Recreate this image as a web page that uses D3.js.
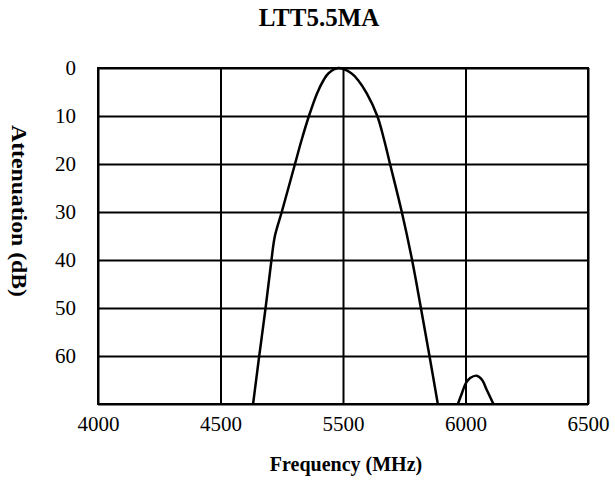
<!DOCTYPE html>
<html>
<head>
<meta charset="utf-8">
<script src="https://cdn.jsdelivr.net/npm/d3@7"></script>
<style>
  html, body { margin: 0; padding: 0; background: #fff; }
  svg { display: block; font-family: "Liberation Serif", "Times New Roman", serif; }
</style>
</head>
<body>
<svg id="chart" width="615" height="480"></svg>
<script>
// Passband response of the LTT5.5MA filter
const freqMain = [5133, 5158, 5184, 5208, 5222, 5250, 5304, 5331, 5361, 5394, 5421, 5441, 5481,
                  5534, 5561, 5597, 5640, 5668, 5692, 5740, 5782, 5818, 5853, 5887];
const attenMain = [70, 60, 50, 40, 35, 30, 20, 15, 10, 5.3, 2.5, 1.1, 0,
                   1.1, 2.5, 5.3, 10, 15, 20, 30, 40, 50, 60, 70];

// Spurious lobe above the passband
const freqSpur = [5969, 5985, 6001, 6019, 6046, 6068, 6087, 6114];
const attenSpur = [70, 67.8, 65.7, 64.6, 64.1, 65, 67.1, 70];

// Axis ticks
const xTickValues = [4500, 5000, 5500, 6000, 6500];
const xTickLabels = ["4000", "4500", "5500", "6000", "6500"];
const yTickValues = [0, 10, 20, 30, 40, 50, 60, 70];
const yTickLabels = ["0", "10", "20", "30", "40", "50", "60", ""];

const svg = d3.select("#chart");
const margin = { left: 98, top: 68, right: 27, bottom: 76 };
const W = 615, H = 480;
const plotW = W - margin.left - margin.right;
const plotH = H - margin.top - margin.bottom;

const x = d3.scaleLinear().domain([4500, 6500]).range([0, plotW]);
const y = d3.scaleLinear().domain([0, 70]).range([0, plotH]);

const g = svg.append("g").attr("transform", `translate(${margin.left},${margin.top})`);

// Horizontal grid + left labels
const yAxis = d3.axisLeft(y)
  .tickValues(yTickValues)
  .tickFormat((d, i) => yTickLabels[i])
  .tickSize(-plotW)
  .tickPadding(22);
const gy = g.append("g").call(yAxis);
gy.select(".domain").remove();
gy.selectAll(".tick line").attr("stroke", "#000").attr("stroke-width", 2);
gy.selectAll(".tick text")
  .attr("font-family", "Liberation Serif, serif")
  .attr("font-size", 21)
  .attr("fill", "#000");

// Vertical grid + bottom labels
const xAxis = d3.axisBottom(x)
  .tickValues(xTickValues)
  .tickFormat((d, i) => xTickLabels[i])
  .tickSize(-plotH)
  .tickPadding(12);
const gx = g.append("g").attr("transform", `translate(0,${plotH})`).call(xAxis);
gx.select(".domain").remove();
gx.selectAll(".tick line").attr("stroke", "#000").attr("stroke-width", 2);
gx.selectAll(".tick text")
  .attr("font-family", "Liberation Serif, serif")
  .attr("font-size", 21)
  .attr("fill", "#000");

// Plot frame
g.append("rect")
  .attr("x", 0).attr("y", 0)
  .attr("width", plotW).attr("height", plotH)
  .attr("fill", "none").attr("stroke", "#000").attr("stroke-width", 2);

// Clip curves to the plot area
svg.append("defs").append("clipPath").attr("id", "plotClip")
  .append("rect").attr("x", 0).attr("y", -3).attr("width", plotW).attr("height", plotH + 3);

const line = d3.line()
  .x(d => x(d[0]))
  .y(d => y(d[1]))
  .curve(d3.curveCatmullRom.alpha(0.5));

const curves = g.append("g").attr("clip-path", "url(#plotClip)");
curves.append("path")
  .datum(d3.zip(freqMain, attenMain))
  .attr("d", line)
  .attr("fill", "none").attr("stroke", "#000").attr("stroke-width", 2.5)
  .attr("stroke-linejoin", "round");
curves.append("path")
  .datum(d3.zip(freqSpur, attenSpur))
  .attr("d", line)
  .attr("fill", "none").attr("stroke", "#000").attr("stroke-width", 2.5)
  .attr("stroke-linejoin", "round");

// Title
svg.append("text")
  .attr("x", 319).attr("y", 26)
  .attr("text-anchor", "middle")
  .attr("font-weight", "bold").attr("font-size", 25)
  .text("LTT5.5MA");

// Axis titles
svg.append("text")
  .attr("x", 346).attr("y", 471)
  .attr("text-anchor", "middle")
  .attr("font-weight", "bold").attr("font-size", 20)
  .text("Frequency (MHz)");

svg.append("text")
  .attr("transform", "translate(12,211) rotate(90)")
  .attr("text-anchor", "middle")
  .attr("font-weight", "bold").attr("font-size", 20)
  .attr("textLength", 172).attr("lengthAdjust", "spacingAndGlyphs")
  .text("Attenuation (dB)");
</script>
</body>
</html>
